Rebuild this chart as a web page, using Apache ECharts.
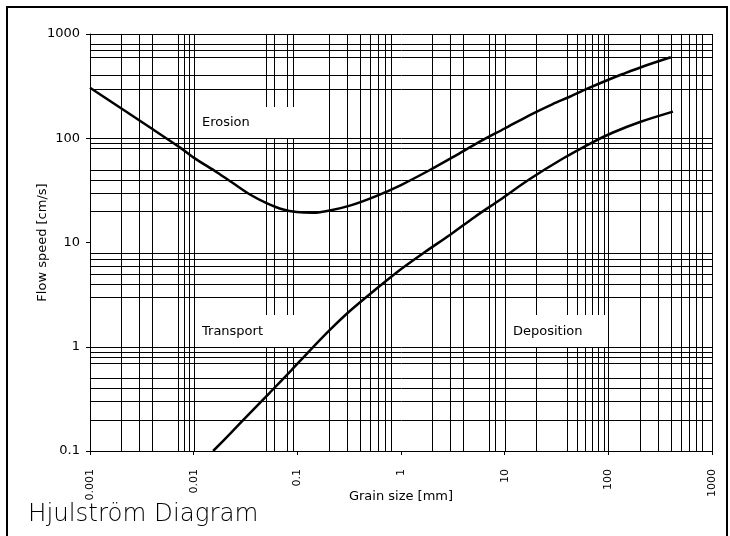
<!DOCTYPE html>
<html><head><meta charset="utf-8">
<script src="https://cdn.jsdelivr.net/npm/echarts@6/dist/echarts.min.js"></script>
<style>html,body{margin:0;padding:0;background:#fff}#c{width:730px;height:536px}</style>
</head><body><div id="c"></div>
<script>
// Axis ticks
const xTickValues = [0.001, 0.01, 0.1, 1, 10, 100, 1000];
const xTickLabels = ['0.001', '0.01', '0.1', '1', '10', '100', '1000'];
const yTickValues = [0.1, 1, 10, 100, 1000];
const yTickLabels = ['0.1', '1', '10', '100', '1000'];

// Grid lines that are visible in the reference (grain size, mm)
const xGridValues = [0.002, 0.003, 0.004, 0.007, 0.008, 0.009,
  0.01, 0.05, 0.06, 0.08, 0.09,
  0.2, 0.3, 0.4, 0.5, 0.6, 0.7, 0.8,
  2, 3, 4, 7, 8, 10,
  20, 40, 50, 60, 70, 80, 90, 100,
  200, 300, 400, 500, 600, 700, 800, 1000];
// Grid lines that are visible in the reference (flow speed, cm/s)
const yGridValues = [300, 400, 600, 700, 800, 1000,
  20, 30, 40, 50, 80, 90, 100,
  3, 4, 5, 6, 7, 8,
  0.2, 0.3, 0.4, 0.5, 0.7, 0.8, 0.9, 1];

// Erosion curve
const erosionSize = [0.001, 0.0038, 0.0074, 0.01, 0.0167, 0.0241, 0.0349, 0.0505, 0.0731, 0.0984, 0.142, 0.206, 0.321, 0.56, 1.0, 1.9, 3.3, 5.75, 10, 17.5, 29.1, 42.4, 61.9, 98.7, 138, 216, 400];
const erosionSpeed = [305, 126.8, 81.3, 65.2, 47.2, 37.0, 28.9, 23.9, 20.7, 19.6, 19.3, 20.3, 22.6, 27.6, 35.6, 49.6, 67.5, 92.7, 124, 167, 213, 250, 297, 362, 413, 488, 598];

// Deposition curve
const depositionSize = [0.0154, 0.0224, 0.0349, 0.0544, 0.0879, 0.132, 0.206, 0.321, 0.56, 0.975, 1.70, 2.96, 5.15, 8.97, 17.5, 36.5, 71.1, 111, 202, 420];
const depositionSpeed = [0.1, 0.146, 0.231, 0.364, 0.598, 0.92, 1.45, 2.20, 3.50, 5.45, 8.1, 11.8, 17.6, 25.6, 40.6, 63.9, 92.0, 113.6, 143.2, 180];

// Region labels (data extents of their white boxes)
const regionNames = ['Erosion', 'Transport', 'Deposition'];
const regionSizeFrom = [0.01, 0.01, 10];
const regionSizeTo = [0.1, 0.1, 100];
const regionSpeedFrom = [100, 1, 1];
const regionSpeedTo = [200, 2, 2];

const xMin = xTickValues[0], xMax = xTickValues[xTickValues.length - 1];
const yMin = yTickValues[0], yMax = yTickValues[yTickValues.length - 1];
const FONT = '"DejaVu Sans", sans-serif';

function labelFor(values, labels, v) {
  let best = 0, bd = Infinity;
  values.forEach((t, i) => {
    const d = Math.abs(Math.log10(t) - Math.log10(v));
    if (d < bd) { bd = d; best = i; }
  });
  return labels[best];
}

const chart = echarts.init(document.getElementById('c'));
chart.setOption({
  animation: false,
  backgroundColor: '#fff',
  title: {
    text: 'Hjulström Diagram', left: 28, top: 502, padding: 0,
    textStyle: { fontFamily: FONT, fontWeight: 200, fontSize: 24.5, color: '#000' }
  },
  graphic: [{
    type: 'rect', silent: true, z: 10,
    shape: { x: 7, y: 7, width: 720, height: 600 },
    style: { fill: 'none', stroke: '#000', lineWidth: 2 }
  }],
  grid: { left: 90, top: 34, width: 622, height: 417 },
  xAxis: {
    type: 'log', logBase: 10, min: xMin, max: xMax,
    name: 'Grain size [mm]', nameLocation: 'middle', nameGap: 39, nameMoveOverlap: false,
    nameTextStyle: { fontFamily: FONT, fontSize: 13, color: '#000' },
    axisLine: { show: true, lineStyle: { color: '#000', width: 1 } },
    axisTick: { show: true, length: 4, lineStyle: { color: '#000' } },
    axisLabel: {
      rotate: 90, margin: 18, fontFamily: FONT, fontSize: 11, color: '#000',
      formatter: v => labelFor(xTickValues, xTickLabels, v)
    },
    splitLine: { show: false }, minorTick: { show: false }
  },
  yAxis: {
    type: 'log', logBase: 10, min: yMin, max: yMax,
    name: 'Flow speed [cm/s]', nameLocation: 'middle', nameGap: 41, nameMoveOverlap: false,
    nameTextStyle: { fontFamily: FONT, fontSize: 13, color: '#000' },
    axisLine: { show: true, lineStyle: { color: '#000', width: 1 } },
    axisTick: { show: true, length: 4, lineStyle: { color: '#000' } },
    axisLabel: {
      margin: 10, fontFamily: FONT, fontSize: 13, color: '#000',
      formatter: v => labelFor(yTickValues, yTickLabels, v)
    },
    splitLine: { show: false }
  },
  series: [
    {
      type: 'custom', silent: true, z: 1, clip: false,
      data: xGridValues.map(v => [v, yMin]),
      renderItem: (params, api) => {
        const v = api.value(0);
        const a = api.coord([v, yMax]);
        const b = api.coord([v, yMin]);
        const x = Math.round(a[0]) + 0.5;
        return {
          type: 'line',
          shape: { x1: x, y1: Math.round(a[1]), x2: x, y2: Math.round(b[1]) },
          style: { stroke: '#000', lineWidth: 1 }
        };
      }
    },
    {
      type: 'custom', silent: true, z: 1, clip: false,
      data: yGridValues.map(v => [xMin, v]),
      renderItem: (params, api) => {
        const v = api.value(1);
        const a = api.coord([xMin, v]);
        const b = api.coord([xMax, v]);
        const y = Math.round(a[1]) + 0.5;
        return {
          type: 'line',
          shape: { x1: Math.round(a[0]), y1: y, x2: Math.round(b[0]) + 1, y2: y },
          style: { stroke: '#000', lineWidth: 1 }
        };
      }
    },
    {
      type: 'custom', silent: true, z: 3, clip: false,
      encode: { x: [0, 2], y: [1, 3] },
      data: regionNames.map((n, i) => [regionSizeFrom[i], regionSpeedFrom[i], regionSizeTo[i], regionSpeedTo[i]]),
      renderItem: (params, api) => {
        const tl = api.coord([api.value(0), api.value(3)]);
        const br = api.coord([api.value(2), api.value(1)]);
        const x0 = Math.round(tl[0]) + 1, y0 = Math.round(tl[1]);
        const x1 = Math.round(br[0]), y1 = Math.round(br[1]);
        return {
          type: 'group',
          children: [
            { type: 'rect', shape: { x: x0, y: y0, width: x1 - x0, height: y1 - y0 },
              style: { fill: '#fff', stroke: null } },
            { type: 'text',
              style: { text: regionNames[params.dataIndex], x: x0 + 7, y: (y0 + y1) / 2 + 0.5,
                fill: '#000', font: '13px ' + FONT, align: 'left', verticalAlign: 'middle' } }
          ]
        };
      }
    },
    {
      name: 'Erosion', type: 'line', z: 5, symbol: 'none', smooth: 0.3,
      data: erosionSize.map((d, i) => [d, erosionSpeed[i]]),
      lineStyle: { color: '#000', width: 2.5 }
    },
    {
      name: 'Deposition', type: 'line', z: 5, symbol: 'none', smooth: 0.3,
      data: depositionSize.map((d, i) => [d, depositionSpeed[i]]),
      lineStyle: { color: '#000', width: 2.5 }
    }
  ]
});
</script>
</body></html>
